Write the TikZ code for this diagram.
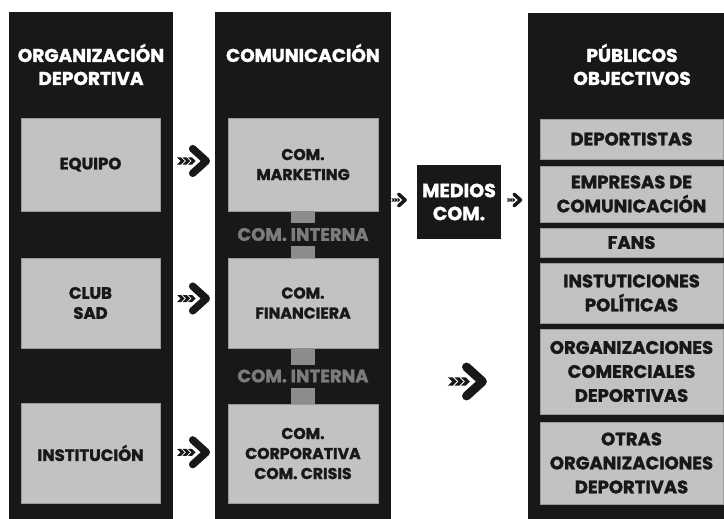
\documentclass[tikz,border=0pt]{standalone}
\usepackage{fontspec}
\setmainfont{Poppins}[BoldFeatures={FakeBold=1.6}]
\usetikzlibrary{calc}
\definecolor{panelblack}{HTML}{181818}
\definecolor{boxgray}{HTML}{C2C2C2}
\definecolor{boxedge}{HTML}{9A9A9A}
\definecolor{linkgray}{HTML}{8C8C8C}
\definecolor{intgray}{HTML}{7C7C7C}
\begin{document}
\begin{tikzpicture}[x=1pt,y=-1pt,
  panel/.style={fill=panelblack,draw=none,inner sep=0pt,anchor=north west},
  title/.style={text=white,align=center,font=\bfseries\fontsize{18.5}{23}\selectfont,inner sep=0pt},
  graybox/.style={fill=boxgray,draw=boxedge,line width=0.6pt,inner sep=0pt,align=center,text=panelblack,font=\bfseries\fontsize{15.7}{20}\selectfont},
  pubbox/.style={graybox,minimum width=183pt,font=\bfseries\fontsize{18}{24}\selectfont},
  lbox/.style={graybox,minimum width=139pt,font=\bfseries\fontsize{16.5}{20}\selectfont},
  mbox/.style={graybox,minimum width=150pt},
  linkbar/.style={draw=linkgray,line width=24pt},
  internal/.style={fill=panelblack,text=intgray,inner sep=0pt,minimum height=23pt,font=\bfseries\fontsize{18}{20}\selectfont},
  pics/feather/.style={code={
    \pgfmathsetmacro\lw{7.5*#1}
    \draw[panelblack,line width=\lw pt,line cap=round,line join=round]
      (-1.3*#1,-12.3*#1) -- (12.3*#1,0) -- (-1.3*#1,12.3*#1);
    \foreach \a in {-17,-11.5,-6}{
      \fill[panelblack] (\a*#1,-3.5*#1) -- (\a*#1+4*#1,-3.5*#1) -- (\a*#1+7.5*#1,0)
        -- (\a*#1+4*#1,3.5*#1) -- (\a*#1,3.5*#1) -- (\a*#1+3.5*#1,0) -- cycle;
    }
  }}
]
\useasboundingbox (0,0) rectangle (724,519);
\fill[white] (0,0) rectangle (724,519);

% panels
\node[panel,minimum width=164pt,minimum height=508pt] (orgcol) at (9,12) {};
\node[panel,minimum width=176pt,minimum height=508pt] (midcol) at (215,12) {};
\node[panel,minimum width=197pt,minimum height=507pt] (pubcol) at (528,13) {};

% titles
\node[title] (orgtitle) at (91,64.5) {ORGANIZACIÓN\\DEPORTIVA};
\node[title] (midtitle) at (303,53) {COMUNICACIÓN};
\node[title] (pubtitle) at (632,64.5) {PÚBLICOS\\OBJECTIVOS};

% left boxes
\node[lbox,minimum height=93pt] (equipo) at (90.5,164.5) {EQUIPO};
\node[lbox,minimum height=90pt] (club) at (90.5,303) {CLUB\\SAD};
\node[lbox,minimum height=100pt] (inst) at (90.5,453) {INSTITUCIÓN};

% middle boxes
\node[mbox,minimum height=93pt] (mkt) at (303,164.5) {COM.\\MARKETING};
\node[mbox,minimum height=90pt] (fin) at (303,303) {COM.\\FINANCIERA};
\node[mbox,minimum height=99pt] (corp) at (303,453.5) {COM.\\CORPORATIVA\\COM. CRISIS};

% internal links
\draw[linkbar] (mkt.south) -- (fin.north);
\draw[linkbar] (fin.south) -- (corp.north);
\node[internal] (int1) at ($(mkt.south)!0.5!(fin.north)$) {COM. INTERNA};
\node[internal] (int2) at ($(fin.south)!0.5!(corp.north)$) {COM. INTERNA};

% medios
\node[fill=panelblack,text=white,inner sep=0pt,minimum width=84pt,minimum height=74pt,align=center,
      font=\bfseries\fontsize{19}{23}\selectfont] (medios) at (459,202) {MEDIOS\\COM.};

% public boxes
\node[pubbox,minimum height=40pt] (dep) at (631.5,139) {DEPORTISTAS};
\node[pubbox,minimum height=56pt] (emp) at (631.5,194) {EMPRESAS DE\\COMUNICACIÓN};
\node[pubbox,minimum height=29pt] (fans) at (631.5,242.5) {FANS};
\node[pubbox,minimum height=60pt] (pol) at (631.5,293) {INSTUTICIONES\\POLÍTICAS};
\node[pubbox,minimum height=85pt] (com) at (631.5,371.5) {ORGANIZACIONES\\COMERCIALES\\DEPORTIVAS};
\node[pubbox,minimum height=82pt] (otr) at (631.5,463) {OTRAS\\ORGANIZACIONES\\DEPORTIVAS};

% arrows
\pic at ($(equipo.east)!0.5!(mkt.west)+(0,-3.5)$) {feather=1};
\pic at ($(club.east)!0.5!(fin.west)+(0,-4.5)$) {feather=1};
\pic at ($(inst.east)!0.5!(corp.west)+(0,-1)$) {feather=1};
\pic at ($(medios.west)+(-17.5,-2)$) {feather=0.47};
\pic at ($(medios.east)+(13.5,-2)$) {feather=0.47};
\pic at ($(medios.center)+(9,179.5)$) {feather=1.18};
\end{tikzpicture}
\end{document}
